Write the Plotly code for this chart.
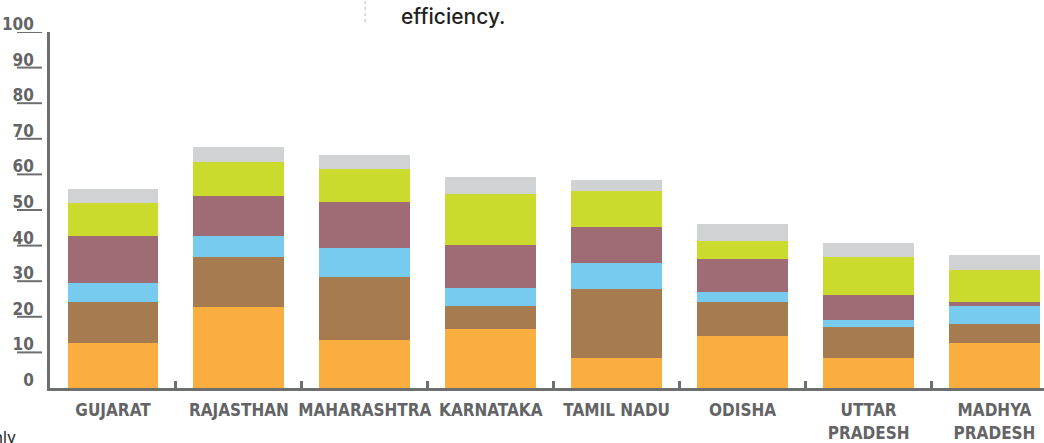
import plotly.graph_objects as go

states = ["GUJARAT", "RAJASTHAN", "MAHARASHTRA", "KARNATAKA", "TAMIL NADU",
          "ODISHA", "UTTAR<br>PRADESH", "MADHYA<br>PRADESH"]

seg_orange = [12.6, 22.8, 13.5, 16.6, 8.4, 14.6, 8.4, 12.6]
seg_brown = [11.5, 14.0, 17.7, 6.5, 19.4, 9.6, 8.7, 5.3]
seg_blue = [5.3, 5.9, 8.1, 5.1, 7.3, 2.8, 2.0, 5.1]
seg_mauve = [13.2, 11.2, 12.9, 12.1, 10.1, 9.3, 7.0, 1.1]
seg_yellow = [9.3, 9.7, 9.3, 14.3, 10.1, 5.1, 10.7, 9.0]
seg_grey = [3.9, 4.2, 3.9, 4.8, 3.1, 4.8, 3.9, 4.2]

y_ticks = [0, 10, 20, 30, 40, 50, 60, 70, 80, 90, 100]
y_ticktext = [str(v) for v in y_ticks]

series = [
    ("Segment 1", seg_orange, "#FBAE40"),
    ("Segment 2", seg_brown, "#A77B50"),
    ("Segment 3", seg_blue, "#76CBEF"),
    ("Segment 4", seg_mauve, "#9F6B75"),
    ("Segment 5", seg_yellow, "#CBDB2E"),
    ("Segment 6", seg_grey, "#D1D2D4"),
]

AXIS_COLOR = "#6D6E70"
TEXT_COLOR = "#636466"
LABEL_FONT = "DejaVu Sans Condensed, Liberation Sans Narrow, Roboto"

fig = go.Figure()
for name, vals, col in series:
    fig.add_trace(go.Bar(x=states, y=vals, name=name, marker_color=col,
                         marker_line_width=0, showlegend=False,
                         hoverinfo="skip"))

shapes = []
for v in y_ticks[1:]:
    shapes.append(dict(type="line", xref="paper", yref="y",
                       x0=-0.0332, x1=-0.008, y0=v, y1=v,
                       line=dict(color=AXIS_COLOR, width=2)))
# dotted divider at top
shapes.append(dict(type="line", xref="paper", yref="paper",
                   x0=0.317, x1=0.317, y0=1.028, y1=1.09,
                   line=dict(color="#BBBBBB", width=1, dash="dot")))

fig.update_layout(
    width=1044, height=443,
    margin=dict(l=50, r=0, t=32, b=55, autoexpand=False),
    barmode="stack",
    bargap=0.278,
    plot_bgcolor="white",
    paper_bgcolor="white",
    shapes=shapes,
    annotations=[
        dict(text="efficiency.", xref="paper", yref="paper",
             x=(399 - 50) / 994, y=(388 - 17) / 356, xanchor="left",
             yanchor="middle", showarrow=False,
             font=dict(family="Inter", size=21, color="#231F20", weight=500)),
        dict(text="only", xref="paper", yref="paper",
             x=(18 - 50) / 994, y=(388 - 437) / 356, xanchor="right",
             yanchor="middle", showarrow=False,
             font=dict(family="Inter", size=16, color="#231F20")),
    ],
)

fig.update_xaxes(
    range=[-0.5, 7.393], automargin=False, tickangle=0,
    showline=True, linecolor=AXIS_COLOR, linewidth=3,
    ticks="inside", tickson="boundaries", ticklen=7, tickwidth=2.5,
    tickcolor=AXIS_COLOR, ticklabelstandoff=5,
    tickfont=dict(family=LABEL_FONT, size=17, color=TEXT_COLOR, weight="bold"),
    showgrid=False, zeroline=False, fixedrange=True,
)
fig.update_yaxes(
    range=[0, 100], automargin=False,
    showline=True, linecolor=AXIS_COLOR, linewidth=2.5,
    tickvals=y_ticks, ticktext=y_ticktext,
    ticks="", ticklabelstandoff=10, ticklabelshift=-8,
    tickfont=dict(family=LABEL_FONT, size=17, color=TEXT_COLOR, weight="bold"),
    showgrid=False, zeroline=False, fixedrange=True,
)

fig.write_html(
    "out.html",
    config={"displayModeBar": False},
    post_script="document.body.style.margin='0';document.body.style.overflow='hidden';",
)
